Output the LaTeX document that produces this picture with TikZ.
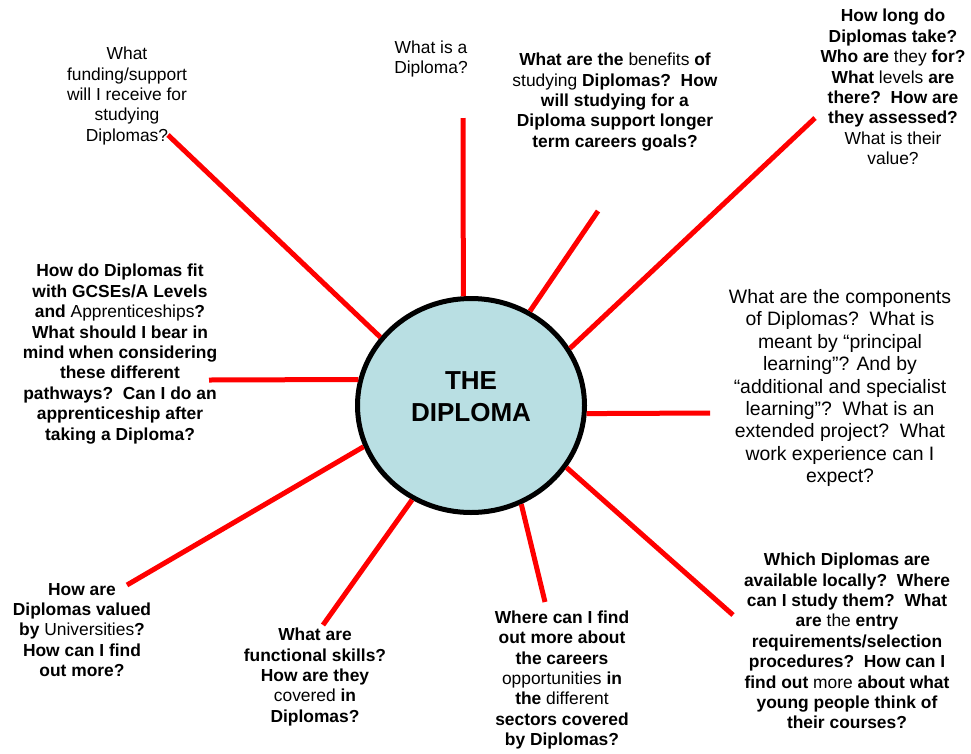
\documentclass[tikz,border=0pt]{standalone}
\usepackage{fontspec}
\setmainfont{Liberation Sans}
\usetikzlibrary{shapes.geometric}

\definecolor{diplomablue}{RGB}{185,223,227}
\definecolor{spokered}{RGB}{255,0,0}

\begin{document}
\begin{tikzpicture}[
    x=1pt,y=-1pt,
    hub/.style={ellipse,draw=black,line width=5pt,fill=diplomablue,
                minimum width=227pt,minimum height=214pt,inner sep=0pt},
    hubtitle/.style={align=center,inner sep=0pt,
                font=\fontsize{26}{32}\selectfont\bfseries},
    question/.style={align=center,inner sep=0pt,
                font=\fontsize{17.4}{20.4}\selectfont},
    bigquestion/.style={align=center,inner sep=0pt,
                font=\fontsize{19.4}{22.4}\selectfont},
    spoke/.style={draw=spokered,line width=5pt},
    ]

    % Page size
    \useasboundingbox (0,0) rectangle (971,753);

    % Central ellipse
    \node[hub] (diploma) at (471,405.5) {};
    \node[hubtitle] (title) at ([yshift=8.5pt]diploma.center) {THE\\DIPLOMA};

    % Outer ends of the spokes
    \coordinate (fundingend)    at (168,135);
    \coordinate (whatisend)     at (463,118);
    \coordinate (benefitsend)   at (598,211);
    \coordinate (howlongend)    at (815,118);
    \coordinate (componentsend) at (710,413);
    \coordinate (whichend)      at (733,615);
    \coordinate (whereend)      at (545,602);
    \coordinate (skillsend)     at (323,625);
    \coordinate (valuedend)     at (127,585);
    \coordinate (gcseend)       at (209,380);

    % Spokes
    \draw[spoke] (diploma.143.4) -- (fundingend);
    \draw[spoke] (diploma.94.3)  -- (whatisend);
    \draw[spoke] (diploma.58.4)  -- (benefitsend);
    \draw[spoke] (diploma.30.6)  -- (howlongend);
    \draw[spoke] (diploma.-4)    -- (componentsend);
    \draw[spoke] (diploma.-33.9) -- (whichend);
    \draw[spoke] (diploma.-63.8) -- (whereend);
    \draw[spoke] (diploma.-122.4) -- (skillsend);
    \draw[spoke] (diploma.-159)  -- (valuedend);
    \draw[spoke] (diploma.167.4) -- (gcseend);

    % Questions, clockwise from the top left
    \node[question] (funding) at (127,96)
        {What\\funding/support\\will I receive for\\studying\\Diplomas?};

    \node[question] (whatis) at (431,59) {What is a\\Diploma?};

    \node[question] (benefits) at (615,102)
        {\textbf{What are the} benefits \textbf{of}\\
         studying \textbf{Diplomas?\ \ How}\\
         \textbf{will studying for a}\\
         \textbf{Diploma support longer}\\
         \textbf{term careers goals?}};

    \node[question] (howlong) at (893,87)
        {\textbf{How long do}\\
         \textbf{Diplomas take?}\\
         \textbf{Who are} they \textbf{for?}\\
         \textbf{What} levels \textbf{are}\\
         \textbf{there?\ \ How are}\\
         \textbf{they assessed?}\\
         What is their\\value?};

    \node[bigquestion] (components) at (840,388)
        {What are the components\\
         of Diplomas?\ \ What is\\
         meant by “principal\\
         learning”? And by\\
         “additional and specialist\\
         learning”?\ \ What is an\\
         extended project?\ \ What\\
         work experience can I\\
         expect?};

    \node[question] (which) at (847,641)
        {\textbf{Which Diplomas are}\\
         \textbf{available locally?\ \ Where}\\
         \textbf{can I study them?\ \ What}\\
         \textbf{are} the \textbf{entry}\\
         \textbf{requirements/selection}\\
         \textbf{procedures?\ \ How can I}\\
         \textbf{find out} more \textbf{about what}\\
         \textbf{young people think of}\\
         \textbf{their courses?}};

    \node[question] (where) at (562,680)
        {\textbf{Where can I find}\\
         \textbf{out more about}\\
         \textbf{the careers}\\
         opportunities \textbf{in}\\
         \textbf{the} different\\
         \textbf{sectors covered}\\
         \textbf{by Diplomas?}};

    \node[question] (skills) at (315,677)
        {\textbf{What are}\\
         \textbf{functional skills?}\\
         \textbf{How are they}\\
         covered \textbf{in}\\
         \textbf{Diplomas?}};

    \node[question] (valued) at (82,630)
        {\textbf{How are}\\
         \textbf{Diplomas valued}\\
         \textbf{by} Universities\textbf{?}\\
         \textbf{How can I find}\\
         \textbf{out more?}};

    \node[question] (gcse) at (120,354)
        {\textbf{How do Diplomas fit}\\
         \textbf{with GCSEs/A Levels}\\
         \textbf{and} Apprenticeships\textbf{?}\\
         \textbf{What should I bear in}\\
         \textbf{mind when considering}\\
         \textbf{these different}\\
         \textbf{pathways?\ \ Can I do an}\\
         \textbf{apprenticeship after}\\
         \textbf{taking a Diploma?}};
\end{tikzpicture}
\end{document}
